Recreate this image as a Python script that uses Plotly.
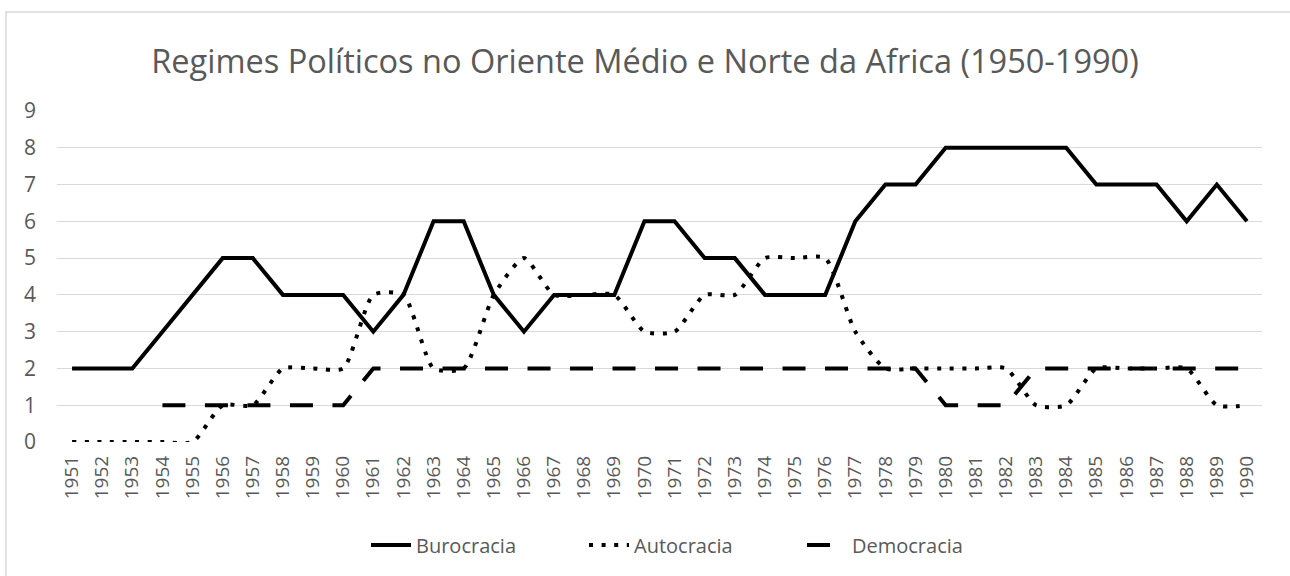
import plotly.graph_objects as go

years = [str(y) for y in range(1951, 1991)]
burocracia = [2, 2, 2, 3, 4, 5, 5, 4, 4, 4, 3, 4, 6, 6, 4, 3, 4, 4, 4, 6,
              6, 5, 5, 4, 4, 4, 6, 7, 7, 8, 8, 8, 8, 8, 7, 7, 7, 6, 7, 6]
autocracia = [0, 0, 0, 0, 0, 1, 1, 2, 2, 2, 4, 4, 2, 2, 4, 5, 4, 4, 4, 3,
              3, 4, 4, 5, 5, 5, 3, 2, 2, 2, 2, 2, 1, 1, 2, 2, 2, 2, 1, 1]
democracia = [None, None, None, 1, 1, 1, 1, 1, 1, 1, 2, 2, 2, 2, 2, 2, 2, 2, 2, 2,
              2, 2, 2, 2, 2, 2, 2, 2, 2, 1, 1, 1, 2, 2, 2, 2, 2, 2, 2, 2]
y_ticks = list(range(0, 10))

FONT = "Open Sans"
GRAY = "#595959"

fig = go.Figure()
fig.add_trace(go.Scatter(x=years, y=burocracia, name="Burocracia", mode="lines",
                         line=dict(color="black", width=4)))
fig.add_trace(go.Scatter(x=years, y=autocracia, name="Autocracia", mode="lines",
                         line=dict(color="black", width=4, dash="4px,8.6px",
                                   shape="spline", smoothing=0.6)))
fig.add_trace(go.Scatter(x=years, y=democracia, name="Democracia", mode="lines",
                         line=dict(color="black", width=4, dash="23px,19.5px")))

fig.update_layout(
    width=1290, height=576,
    margin=dict(l=57, r=28, t=111, b=134),
    paper_bgcolor="white", plot_bgcolor="white",
    font=dict(family=FONT, color=GRAY),
    title=dict(text="Regimes Políticos no Oriente Médio e Norte da Africa (1950-1990)",
               x=0.5, xref="container", xanchor="center",
               y=1 - 62 / 576, yref="container", yanchor="middle",
               font=dict(family=FONT, size=32.5, color=GRAY)),
    xaxis=dict(type="category", tickangle=-90, showgrid=False, zeroline=False,
               showline=False, ticks="", tickfont=dict(size=19, color=GRAY),
               ticklabelstandoff=9, range=[-0.5, len(years) - 0.5]),
    yaxis=dict(range=[0, 9], tickvals=y_ticks, showgrid=True, gridcolor="#d9d9d9",
               gridwidth=1, zeroline=False, showline=False, ticks="",
               tickfont=dict(size=21, color=GRAY), ticklabelstandoff=20),
    legend=dict(orientation="h", x=(366 - 57) / 1205, xanchor="left",
                y=-0.311, yanchor="middle", entrywidth=163, entrywidthmode="pixels",
                font=dict(size=20, color=GRAY), itemwidth=40),
    showlegend=True,
    shapes=[dict(type="rect", xref="paper", yref="paper",
                 x0=(6 - 57) / 1205, x1=1.1, y0=-0.6, y1=(442 - 12) / 331,
                 line=dict(color="#d9d9d9", width=1.5), fillcolor="rgba(0,0,0,0)",
                 layer="below")],
)

fig.write_html("out.html", config={"displayModeBar": False},
               post_script="document.body.style.margin='0';")
